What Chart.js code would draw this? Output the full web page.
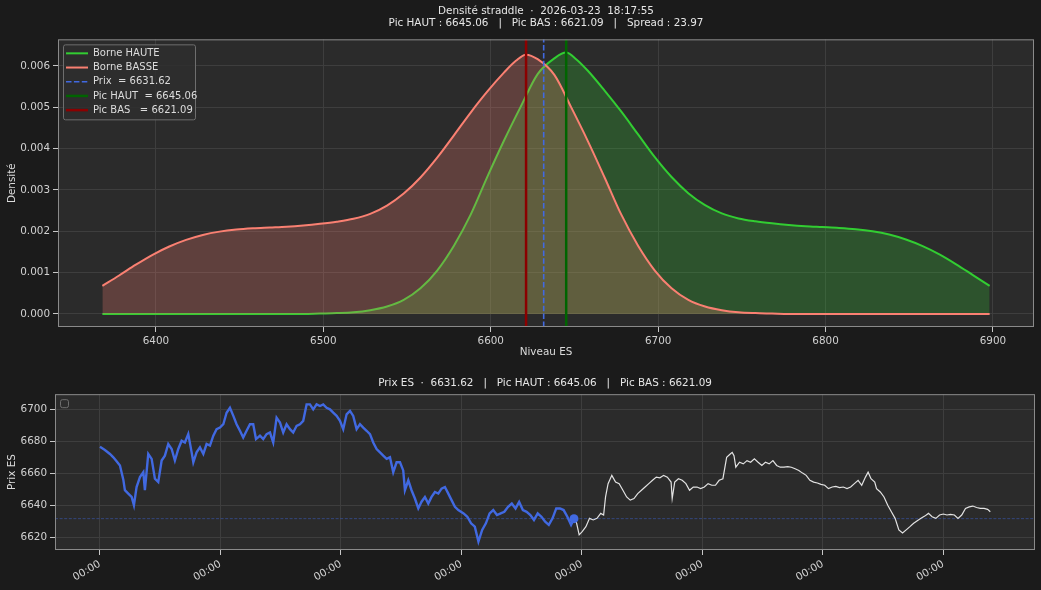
<!DOCTYPE html>
<html lang="fr">
<head>
<meta charset="utf-8">
<title>Densité straddle</title>
<script src="https://cdn.jsdelivr.net/npm/chart.js@4.4.1/dist/chart.umd.min.js"></script>
<style>
  html, body { margin: 0; padding: 0; background: #1b1b1b; }
  #cadre { position: relative; width: 1041px; height: 590px; overflow: hidden; }
  #densite { position: absolute; left: 0; top: 0; }
  #prix { position: absolute; left: 0; top: 365px; }
</style>
</head>
<body>
<div id="cadre">
  <canvas id="densite" width="1041" height="365"></canvas>
  <canvas id="prix" width="1041" height="225"></canvas>
</div>
<script>
// --- valeurs ---
var prixActuel = 6631.62;
var picHaut = 6645.06;
var picBas = 6621.09;
var spread = 23.97;
var horodatage = '2026-03-23  18:17:55';

// densité "Borne BASSE" (saumon)
var niveauxBasse = [6368, 6378, 6388, 6398, 6408, 6418, 6428, 6438, 6448, 6458, 6468, 6478, 6488, 6498,
  6508, 6518, 6528, 6538, 6548, 6558, 6568, 6578, 6588, 6598, 6608, 6615, 6621, 6628, 6638, 6648,
  6658, 6668, 6678, 6688, 6698, 6708, 6718, 6728, 6738, 6748, 6758, 6768, 6778, 6798, 6818, 6838,
  6858, 6878, 6898];
var densiteBasse = [0.00068, 0.00093, 0.00119, 0.00143, 0.00163, 0.00179, 0.00191, 0.00199, 0.00204, 0.00207,
  0.00209, 0.00211, 0.00214, 0.00218, 0.00223, 0.00230, 0.00242, 0.00262, 0.00291, 0.00330, 0.00378,
  0.00432, 0.00487, 0.00538, 0.00584, 0.00612, 0.00627, 0.00616, 0.00578, 0.00500, 0.00418, 0.00330,
  0.00240, 0.00165, 0.00105, 0.00062, 0.00034, 0.00018, 0.00009, 0.00004, 0.00002, 0.00001, 0,
  0, 0, 0, 0, 0, 0];

// densité "Borne HAUTE" (vert)
var niveauxHaute = [6368, 6388, 6408, 6428, 6448, 6468, 6488, 6498, 6508, 6518, 6528, 6538, 6548, 6558,
  6568, 6578, 6588, 6598, 6608, 6618, 6628, 6638, 6645, 6651, 6658, 6668, 6678, 6688, 6698, 6708,
  6718, 6728, 6738, 6748, 6758, 6768, 6778, 6788, 6798, 6808, 6818, 6828, 6838, 6848, 6858, 6868,
  6878, 6888, 6898];
var densiteHaute = [0, 0, 0, 0, 0, 0, 0, 0.00001, 0.00002, 0.00004, 0.00009, 0.00018, 0.00034, 0.00062,
  0.00105, 0.00165, 0.00240, 0.00332, 0.00420, 0.00502, 0.00580, 0.00618, 0.00632, 0.00616, 0.00588,
  0.00540, 0.00489, 0.00434, 0.00379, 0.00331, 0.00292, 0.00263, 0.00243, 0.00231, 0.00224, 0.00219,
  0.00215, 0.00212, 0.00210, 0.00208, 0.00205, 0.00200, 0.00192, 0.00180, 0.00164, 0.00144, 0.00120,
  0.00094, 0.00068];

var graduationsNiveau = [6400, 6500, 6600, 6700, 6800, 6900];
var graduationsDensite = [0, 0.001, 0.002, 0.003, 0.004, 0.005, 0.006];

// prix ES : historique (bleu) puis suite (blanc), temps en heures depuis le début
var heuresHist = [0.000, 0.041, 0.083, 0.111, 0.138, 0.166, 0.194, 0.207, 0.235, 0.263, 0.282, 0.304, 0.332,
  0.360, 0.373, 0.401, 0.429, 0.456, 0.484, 0.512, 0.539, 0.567, 0.595, 0.622, 0.650, 0.678, 0.705,
  0.733, 0.761, 0.775, 0.802, 0.830, 0.858, 0.885, 0.913, 0.941, 0.968, 0.996, 1.024, 1.051, 1.079,
  1.107, 1.134, 1.162, 1.189, 1.217, 1.245, 1.272, 1.295, 1.328, 1.355, 1.383, 1.411, 1.438, 1.466,
  1.494, 1.521, 1.549, 1.577, 1.604, 1.632, 1.660, 1.687, 1.715, 1.743, 1.770, 1.798, 1.826, 1.853,
  1.881, 1.909, 1.936, 1.964, 1.992, 2.019, 2.047, 2.075, 2.102, 2.130, 2.158, 2.185, 2.213, 2.241,
  2.268, 2.296, 2.324, 2.351, 2.379, 2.407, 2.434, 2.462, 2.490, 2.517, 2.531, 2.559, 2.586, 2.614,
  2.642, 2.669, 2.697, 2.725, 2.752, 2.780, 2.808, 2.835, 2.863, 2.891, 2.918, 2.946, 2.974, 3.018,
  3.049, 3.080, 3.111, 3.141, 3.172, 3.203, 3.234, 3.264, 3.295, 3.326, 3.356, 3.387, 3.418, 3.449,
  3.479, 3.510, 3.541, 3.572, 3.602, 3.633, 3.664, 3.695, 3.725, 3.756, 3.787, 3.818, 3.848, 3.879,
  3.910, 3.934];
var prixHist = [6676.6, 6674.6, 6672.1, 6670.0, 6667.5, 6664.9, 6656.0, 6649.4, 6647.3, 6645.2, 6640.0, 6651.4,
  6657.6, 6660.7, 6649.4, 6672.1, 6669.0, 6656.6, 6654.5, 6668.0, 6671.0, 6678.3, 6675.2, 6668.0,
  6675.2, 6680.4, 6679.3, 6684.5, 6673.1, 6666.9, 6673.1, 6676.2, 6672.1, 6678.3, 6677.3, 6683.5,
  6687.6, 6688.6, 6690.7, 6697.9, 6701.0, 6695.9, 6690.7, 6686.6, 6682.4, 6686.6, 6690.7, 6690.7,
  6681.4, 6683.5, 6681.4, 6684.5, 6685.5, 6679.3, 6694.8, 6691.7, 6685.5, 6690.7, 6687.6, 6685.5,
  6689.7, 6690.7, 6692.8, 6703.1, 6703.1, 6700.0, 6703.1, 6702.1, 6703.1, 6701.0, 6700.0, 6697.9,
  6695.9, 6692.8, 6687.6, 6696.9, 6699.0, 6695.9, 6687.6, 6690.7, 6688.6, 6686.6, 6684.5, 6679.3,
  6675.2, 6673.1, 6671.0, 6669.0, 6670.0, 6660.7, 6666.9, 6666.9, 6661.8, 6649.4, 6655.6, 6649.4,
  6644.2, 6638.0, 6642.2, 6645.2, 6641.1, 6645.2, 6648.3, 6647.3, 6650.4, 6651.4, 6647.3, 6643.2,
  6639.0, 6637.0, 6634.9, 6632.8, 6628.7, 6626.6, 6617.3, 6624.6, 6628.7, 6634.9, 6637.0, 6633.9,
  6634.9, 6635.9, 6639.0, 6641.1, 6638.0, 6642.1, 6637.0, 6635.9, 6633.9, 6630.8, 6634.9, 6632.8,
  6629.7, 6627.7, 6631.8, 6638.0, 6638.0, 6637.0, 6632.8, 6627.7, 6631.6];
var heuresSuite = [3.934, 3.956, 3.977, 4.002, 4.033, 4.063, 4.094, 4.125, 4.156, 4.180, 4.196, 4.217, 4.248,
  4.279, 4.309, 4.340, 4.371, 4.401, 4.432, 4.463, 4.494, 4.524, 4.555, 4.586, 4.617, 4.647, 4.678,
  4.709, 4.740, 4.749, 4.770, 4.801, 4.832, 4.863, 4.893, 4.924, 4.955, 4.985, 5.016, 5.047, 5.078,
  5.108, 5.139, 5.170, 5.201, 5.231, 5.247, 5.262, 5.277, 5.308, 5.339, 5.370, 5.400, 5.431, 5.462,
  5.493, 5.523, 5.554, 5.585, 5.616, 5.646, 5.677, 5.708, 5.738, 5.769, 5.800, 5.831, 5.861, 5.892,
  5.923, 5.954, 5.984, 6.015, 6.046, 6.077, 6.107, 6.138, 6.169, 6.200, 6.230, 6.261, 6.292, 6.322,
  6.353, 6.375, 6.399, 6.430, 6.445, 6.476, 6.507, 6.538, 6.568, 6.599, 6.630, 6.661, 6.691, 6.722,
  6.753, 6.783, 6.814, 6.845, 6.876, 6.906, 6.937, 6.968, 6.999, 7.029, 7.060, 7.091, 7.121, 7.152,
  7.183, 7.214, 7.244, 7.275, 7.306, 7.337, 7.367, 7.389];
var prixSuite = [6631.6, 6628.7, 6621.5, 6623.5, 6626.6, 6631.8, 6630.8, 6631.8, 6634.9, 6633.9, 6645.2, 6653.5,
  6658.7, 6654.5, 6653.5, 6649.4, 6645.2, 6643.2, 6644.2, 6647.3, 6649.4, 6651.4, 6653.5, 6655.6,
  6657.6, 6657.2, 6658.7, 6657.6, 6654.5, 6644.2, 6654.5, 6656.6, 6655.6, 6653.5, 6649.4, 6651.4,
  6651.4, 6650.4, 6651.4, 6653.5, 6652.5, 6652.5, 6655.6, 6656.6, 6670.0, 6672.1, 6673.1, 6671.0,
  6663.8, 6666.9, 6665.9, 6667.9, 6666.9, 6669.0, 6666.9, 6664.9, 6666.9, 6665.9, 6667.9, 6664.9,
  6663.8, 6663.8, 6664.2, 6663.8, 6662.8, 6661.8, 6660.1, 6658.7, 6655.6, 6654.5, 6653.9, 6653.1,
  6652.5, 6650.4, 6651.4, 6651.8, 6651.0, 6651.4, 6650.4, 6651.4, 6653.5, 6655.6, 6652.5, 6657.6,
  6660.7, 6656.6, 6654.5, 6650.4, 6648.3, 6645.2, 6640.0, 6635.9, 6631.8, 6624.6, 6622.6, 6624.6,
  6626.6, 6628.7, 6630.3, 6631.8, 6633.2, 6634.9, 6632.8, 6631.8, 6633.9, 6634.5, 6633.9, 6634.3,
  6633.9, 6631.8, 6633.9, 6638.0, 6639.0, 6639.5, 6638.6, 6638.0, 6638.0, 6637.4, 6635.9];

var graduationsHeures = [0, 1, 2, 3, 4, 5, 6, 7];
var etiquettesHeures = ['00:00', '00:00', '00:00', '00:00', '00:00', '00:00', '00:00', '00:00'];
var graduationsPrix = [6620, 6640, 6660, 6680, 6700];

Chart.defaults.font.family = "'DejaVu Sans', sans-serif";
Chart.defaults.font.size = 10.4;
Chart.defaults.color = '#d0d0d0';
Chart.defaults.animation = false;

function points(xs, ys) {
    return xs.map(function (x, i) { return {x: x, y: ys[i]}; });
}

// fond de la figure et des axes, puis le cadre
var fondAxes = {
    id: 'fondAxes',
    beforeDraw: function (chart) {
        var ctx = chart.ctx, a = chart.chartArea;
        ctx.save();
        ctx.fillStyle = '#1b1b1b';
        ctx.fillRect(0, 0, chart.width, chart.height);
        ctx.fillStyle = '#2b2b2b';
        ctx.fillRect(a.left, a.top, a.right - a.left, a.bottom - a.top);
        ctx.restore();
    },
    afterDraw: function (chart) {
        var ctx = chart.ctx, a = chart.chartArea;
        ctx.save();
        ctx.strokeStyle = '#8a8a8a';
        ctx.lineWidth = 1;
        ctx.strokeRect(a.left + 0.5, a.top + 0.5, a.right - a.left - 1, a.bottom - a.top - 1);
        ctx.restore();
    }
};

function boiteArrondie(ctx, x, y, w, h, r) {
    ctx.beginPath();
    ctx.moveTo(x + r, y);
    ctx.arcTo(x + w, y, x + w, y + h, r);
    ctx.arcTo(x + w, y + h, x, y + h, r);
    ctx.arcTo(x, y + h, x, y, r);
    ctx.arcTo(x, y, x + w, y, r);
    ctx.closePath();
}

// légende façon matplotlib, en haut à gauche dans les axes
var legendeInterne = {
    id: 'legendeInterne',
    afterDraw: function (chart) {
        var ctx = chart.ctx, a = chart.chartArea;
        var items = chart.data.datasets.filter(function (d) { return d.enLegende; });
        var x0 = a.left + 5, y0 = a.top + 5;
        var w = items.length ? 132 : 8, h = items.length ? items.length * 14.2 + 4 : 8;
        ctx.save();
        boiteArrondie(ctx, x0 + 0.5, y0 + 0.5, w, h, 2);
        ctx.fillStyle = 'rgba(46,46,46,0.85)';
        ctx.fill();
        ctx.strokeStyle = '#6e6e6e';
        ctx.lineWidth = 1;
        ctx.stroke();
        ctx.textBaseline = 'middle';
        ctx.font = "10px 'DejaVu Sans', sans-serif";
        items.forEach(function (d, i) {
            var y = y0 + 9 + i * 14.2;
            ctx.strokeStyle = d.borderColor;
            ctx.lineWidth = d.borderWidth;
            ctx.setLineDash(d.borderDash || []);
            ctx.beginPath();
            ctx.moveTo(x0 + 3, y);
            ctx.lineTo(x0 + 25, y);
            ctx.stroke();
            ctx.setLineDash([]);
            ctx.fillStyle = '#dcdcdc';
            ctx.fillText(d.label, x0 + 30, y);
        });
        ctx.restore();
    }
};

// ---------- densité ----------
var yMinDensite = -0.000316, yMaxDensite = 0.00664;

function verticale(label, x, couleur, largeur, tirets, ordre) {
    return {
        label: label, enLegende: true,
        data: [{x: x, y: yMinDensite}, {x: x, y: yMaxDensite}],
        borderColor: couleur, borderWidth: largeur, borderDash: tirets,
        pointRadius: 0, fill: false, order: ordre
    };
}

new Chart(document.getElementById('densite'), {
    type: 'line',
    data: {
        datasets: [
            {
                label: 'Borne HAUTE', enLegende: true,
                data: points(niveauxHaute, densiteHaute),
                borderColor: '#32cd32', borderWidth: 2,
                backgroundColor: 'rgba(50,205,50,0.25)', fill: 'origin',
                pointRadius: 0, cubicInterpolationMode: 'monotone', order: 5
            },
            {
                label: 'Borne BASSE', enLegende: true,
                data: points(niveauxBasse, densiteBasse),
                borderColor: '#fa8072', borderWidth: 2,
                backgroundColor: 'rgba(250,128,114,0.25)', fill: 'origin',
                pointRadius: 0, cubicInterpolationMode: 'monotone', order: 4
            },
            verticale('Prix  = ' + prixActuel.toFixed(2), prixActuel, '#4169e1', 1.6, [5.5, 2.4], 1),
            verticale('Pic HAUT  = ' + picHaut.toFixed(2), picHaut, '#006400', 2.5, [], 2),
            verticale('Pic BAS   = ' + picBas.toFixed(2), picBas, '#8b0000', 2.5, [], 3)
        ]
    },
    options: {
        responsive: false,
        devicePixelRatio: 1,
        layout: {padding: {left: 0, right: 7, top: 0, bottom: 0}},
        plugins: {
            legend: {display: false},
            tooltip: {enabled: false},
            title: {
                display: true,
                fullSize: false,
                text: ['Densité straddle  ·  ' + horodatage,
                    'Pic HAUT : ' + picHaut.toFixed(2) + '   |   Pic BAS : ' + picBas.toFixed(2) +
                    '   |   Spread : ' + spread.toFixed(2)],
                color: '#e6e6e6',
                font: {size: 10.4, weight: 'normal', lineHeight: 1.17},
                padding: {top: 5, bottom: 10}
            }
        },
        scales: {
            x: {
                type: 'linear', min: 6341.5, max: 6924.5,
                afterBuildTicks: function (s) { s.ticks = graduationsNiveau.map(function (v) { return {value: v}; }); },
                afterFit: function (s) { s.height = 38; },
                grid: {color: '#3e3e3e', tickColor: '#c8c8c8', tickLength: 5, tickWidth: 1},
                border: {display: false},
                ticks: {color: '#d0d0d0', padding: 3, maxRotation: 0, callback: function (v) { return String(v); }},
                title: {display: true, text: 'Niveau ES', color: '#dcdcdc', padding: {top: 2, bottom: 6}}
            },
            y: {
                type: 'linear', min: yMinDensite, max: yMaxDensite,
                afterBuildTicks: function (s) { s.ticks = graduationsDensite.map(function (v) { return {value: v}; }); },
                afterFit: function (s) { s.width = 58; },
                grid: {color: '#3e3e3e', tickColor: '#c8c8c8', tickLength: 5, tickWidth: 1},
                border: {display: false},
                ticks: {color: '#d0d0d0', padding: 3, callback: function (v) { return v.toFixed(3); }},
                title: {display: true, text: 'Densité', color: '#dcdcdc', padding: {top: 6, bottom: 4}}
            }
        }
    },
    plugins: [fondAxes, legendeInterne]
});

// ---------- prix ES ----------
var xMinHeures = -0.373, xMaxHeures = 7.76;

new Chart(document.getElementById('prix'), {
    type: 'line',
    data: {
        datasets: [
            {
                label: 'Prix actuel',
                data: [{x: heuresHist[heuresHist.length - 1], y: prixActuel}],
                pointRadius: 4.5, pointBackgroundColor: '#4169e1', pointBorderWidth: 0,
                showLine: false, order: 0
            },
            {
                label: 'Historique',
                data: points(heuresHist, prixHist),
                borderColor: '#4169e1', borderWidth: 2.4, pointRadius: 0, tension: 0, order: 1
            },
            {
                label: 'Suite',
                data: points(heuresSuite, prixSuite),
                borderColor: '#e2e2e2', borderWidth: 1.2, pointRadius: 0, tension: 0, order: 2
            },
            {
                label: 'Niveau prix',
                data: [{x: xMinHeures, y: prixActuel}, {x: xMaxHeures, y: prixActuel}],
                borderColor: 'rgba(65,105,225,0.45)', borderWidth: 1, borderDash: [3, 1.6],
                pointRadius: 0, order: 3
            }
        ]
    },
    options: {
        responsive: false,
        devicePixelRatio: 1,
        layout: {padding: {left: 0, right: 6, top: 0, bottom: 0}},
        plugins: {
            legend: {display: false},
            tooltip: {enabled: false},
            title: {
                display: true,
                fullSize: false,
                text: 'Prix ES  ·  ' + prixActuel.toFixed(2) + '   |   Pic HAUT : ' + picHaut.toFixed(2) +
                    '   |   Pic BAS : ' + picBas.toFixed(2),
                color: '#e6e6e6',
                font: {size: 10.4, weight: 'normal', lineHeight: 1.17},
                padding: {top: 12, bottom: 5}
            }
        },
        scales: {
            x: {
                type: 'linear', min: xMinHeures, max: xMaxHeures,
                afterBuildTicks: function (s) { s.ticks = graduationsHeures.map(function (v) { return {value: v}; }); },
                afterFit: function (s) { s.height = 40; },
                grid: {color: '#3e3e3e', tickColor: '#c8c8c8', tickLength: 5, tickWidth: 1},
                border: {display: false},
                ticks: {
                    color: '#d0d0d0', padding: 3, minRotation: 30, maxRotation: 30,
                    callback: function (v) { return etiquettesHeures[graduationsHeures.indexOf(v)]; }
                }
            },
            y: {
                type: 'linear', min: 6612, max: 6709.5,
                afterBuildTicks: function (s) { s.ticks = graduationsPrix.map(function (v) { return {value: v}; }); },
                afterFit: function (s) { s.width = 55; },
                grid: {color: '#3e3e3e', tickColor: '#c8c8c8', tickLength: 5, tickWidth: 1},
                border: {display: false},
                ticks: {color: '#d0d0d0', padding: 3, callback: function (v) { return String(v); }},
                title: {display: true, text: 'Prix ES', color: '#dcdcdc', padding: {top: 6, bottom: 4}}
            }
        }
    },
    plugins: [fondAxes, legendeInterne]
});
</script>
</body>
</html>
